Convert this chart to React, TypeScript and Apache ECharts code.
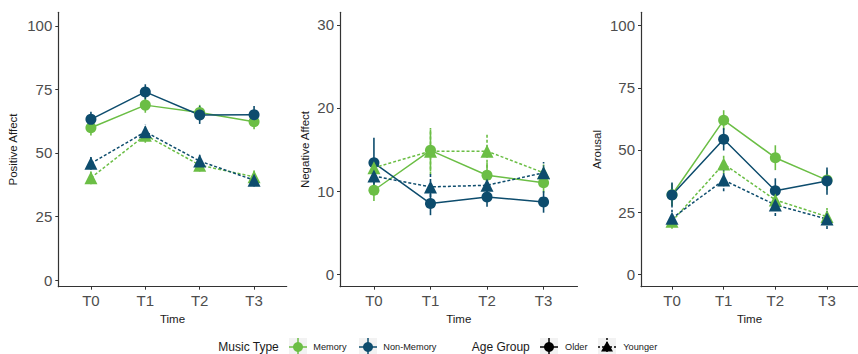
import React, { useEffect, useRef } from "react";
import * as echarts from "echarts";

const times = ["T0", "T1", "T2", "T3"];
const musicTypes = ["Memory", "Non-Memory"];
const ageGroups = ["Older", "Younger"];

// Positive Affect
const paMemOld = [59.9, 68.8, 65.9, 62.3];
const paMemOldSe = [3, 3, 3, 3];
const paNonOld = [63.2, 74.0, 64.9, 65.0];
const paNonOldSe = [3, 3, 3.5, 3.5];
const paMemYoung = [40.2, 57.0, 45.2, 40.6];
const paMemYoungSe = [2.5, 3, 2.5, 2.5];
const paNonYoung = [45.9, 58.3, 46.8, 39.3];
const paNonYoungSe = [2.5, 3, 2.5, 2.5];

// Negative Affect
const naMemOld = [10.1, 14.9, 11.9, 11.0];
const naMemOldSe = [1.3, 2.5, 1.5, 1.2];
const naNonOld = [13.4, 8.5, 9.3, 8.7];
const naNonOldSe = [3.0, 1.4, 1.2, 1.3];
const naMemYoung = [12.8, 14.8, 14.8, 12.2];
const naMemYoungSe = [1.2, 2.8, 2.0, 1.0];
const naNonYoung = [11.8, 10.5, 10.7, 12.2];
const naNonYoungSe = [1.5, 1.8, 1.6, 1.3];

// Arousal
const arMemOld = [32.0, 62.0, 46.9, 37.9];
const arMemOldSe = [4.5, 4, 5, 4];
const arNonOld = [31.9, 54.3, 33.6, 37.5];
const arNonOldSe = [5, 4.5, 5, 5.5];
const arMemYoung = [21.3, 44.4, 29.9, 23.2];
const arMemYoungSe = [3, 4, 3.5, 3.5];
const arNonYoung = [22.5, 37.9, 27.9, 22.2];
const arNonYoungSe = [3.5, 4.5, 4.5, 4];

const panelTitles = ["Positive Affect", "Negative Affect", "Arousal"];
const yTicks = [
  [0, 25, 50, 75, 100],
  [0, 10, 20, 30],
  [0, 25, 50, 75, 100],
];

const GREEN = "#6BBE45";
const NAVY = "#0D4C6D";
const FONT = "Liberation Sans, Arial, sans-serif";

type Grp = { vals: number[]; se: number[]; music: number; age: number };

const panels: Grp[][] = [
  [
    { vals: paMemOld, se: paMemOldSe, music: 0, age: 0 },
    { vals: paNonOld, se: paNonOldSe, music: 1, age: 0 },
    { vals: paMemYoung, se: paMemYoungSe, music: 0, age: 1 },
    { vals: paNonYoung, se: paNonYoungSe, music: 1, age: 1 },
  ],
  [
    { vals: naMemOld, se: naMemOldSe, music: 0, age: 0 },
    { vals: naNonOld, se: naNonOldSe, music: 1, age: 0 },
    { vals: naMemYoung, se: naMemYoungSe, music: 0, age: 1 },
    { vals: naNonYoung, se: naNonYoungSe, music: 1, age: 1 },
  ],
  [
    { vals: arMemOld, se: arMemOldSe, music: 0, age: 0 },
    { vals: arNonOld, se: arNonOldSe, music: 1, age: 0 },
    { vals: arMemYoung, se: arMemYoungSe, music: 0, age: 1 },
    { vals: arNonYoung, se: arNonYoungSe, music: 1, age: 1 },
  ],
];

export default function App() {
  const ref = useRef<HTMLDivElement>(null);
  useEffect(() => {
    if (!ref.current) return;
    const chart = echarts.init(ref.current, null, { renderer: "svg" });

    const grids = [
      { left: 58.3, top: 12.3, width: 228.4, height: 274.4 },
      { left: 340, top: 12.3, width: 237.5, height: 274.4 },
      { left: 641, top: 12.3, width: 229, height: 274.4 },
    ];
    const yRanges = [
      [-2.6, 105.3],
      [-1.5, 31.5],
      [-5, 105.4],
    ];
    const nameGaps = [39, 29, 38.5];

    const xAxes = grids.map((_, i) => ({
      type: "value",
      gridIndex: i,
      min: -0.6,
      max: 3.6,
      name: "Time",
      nameLocation: "middle",
      nameGap: 25,
      nameTextStyle: { fontSize: 11.5, color: "#1a1a1a", fontFamily: FONT },
      axisLine: { show: true, onZero: false, lineStyle: { color: "#333", width: 1.2 } },
      axisTick: {
        show: true,
        length: 3,
        lineStyle: { color: "#333" },
        customValues: [0, 1, 2, 3],
      },
      axisLabel: {
        customValues: [0, 1, 2, 3],
        formatter: (v: number) => times[Math.round(v)] ?? "",
        fontSize: 15,
        color: "#4d4d4d",
        fontFamily: FONT,
        margin: 6,
      },
      splitLine: { show: false },
    }));

    const yAxes = grids.map((_, i) => ({
      type: "value",
      gridIndex: i,
      min: yRanges[i][0],
      max: yRanges[i][1],
      name: panelTitles[i],
      nameLocation: "middle",
      nameGap: nameGaps[i],
      nameTextStyle: { fontSize: 11.5, color: "#1a1a1a", fontFamily: FONT },
      axisLine: { show: true, onZero: false, lineStyle: { color: "#333", width: 1.2 } },
      axisTick: {
        show: true,
        length: 3,
        lineStyle: { color: "#333" },
        customValues: yTicks[i],
      },
      axisLabel: {
        customValues: yTicks[i],
        fontSize: 15,
        color: "#4d4d4d",
        fontFamily: FONT,
        margin: 6,
      },
      splitLine: { show: false },
    }));

    const series: any[] = [];
    panels.forEach((groups, pi) => {
      groups.forEach((g) => {
        const color = g.music === 0 ? GREEN : NAVY;
        const dash = g.age === 0 ? null : [3, 2];
        series.push({
          type: "custom",
          name: musicTypes[g.music] + " " + ageGroups[g.age] + " err",
          xAxisIndex: pi,
          yAxisIndex: pi,
          silent: true,
          z: 1,
          data: g.vals.map((v, i) => [i, v - g.se[i], v + g.se[i]]),
          renderItem: (params: any, api: any) => {
            const p1 = api.coord([api.value(0), api.value(1)]);
            const p2 = api.coord([api.value(0), api.value(2)]);
            return {
              type: "line",
              shape: { x1: p1[0], y1: p1[1], x2: p2[0], y2: p2[1] },
              style: { stroke: color, lineWidth: 1.6, lineDash: dash },
            };
          },
        });
      });
      groups.forEach((g) => {
        const color = g.music === 0 ? GREEN : NAVY;
        series.push({
          type: "line",
          name: musicTypes[g.music] + " " + ageGroups[g.age],
          xAxisIndex: pi,
          yAxisIndex: pi,
          z: 2,
          data: g.vals.map((v, i) => [i, v]),
          symbol: g.age === 0 ? "circle" : "triangle",
          symbolSize: g.age === 0 ? 11 : 13,
          showSymbol: true,
          itemStyle: { color },
          lineStyle: {
            color,
            width: 1.5,
            type: g.age === 0 ? "solid" : [3, 2],
          },
        });
      });
    });

    const ly = 347;
    const keyBox = (cx: number) => ({
      type: "rect",
      shape: { x: cx - 9, y: ly - 9, width: 18, height: 18 },
      style: { fill: "#f2f2f2" },
    });
    const keyLines = (cx: number, color: string, dash: number[] | null) => [
      {
        type: "line",
        shape: { x1: cx - 9, y1: ly, x2: cx + 9, y2: ly },
        style: { stroke: color, lineWidth: 1.5, lineDash: dash },
      },
      {
        type: "line",
        shape: { x1: cx, y1: ly - 9, x2: cx, y2: ly + 9 },
        style: { stroke: color, lineWidth: 1.5, lineDash: dash },
      },
    ];
    const txt = (x: number, text: string, size: number) => ({
      type: "text",
      x,
      y: ly,
      style: {
        text,
        fontSize: size,
        fill: "#1a1a1a",
        fontFamily: FONT,
        verticalAlign: "middle",
        align: "left",
      },
    });

    const graphic: any[] = [
      txt(218.3, "Music Type", 12),
      keyBox(298),
      ...keyLines(298, GREEN, null),
      { type: "circle", shape: { cx: 298, cy: ly, r: 5 }, style: { fill: GREEN } },
      txt(313.3, musicTypes[0], 9.2),
      keyBox(368),
      ...keyLines(368, NAVY, null),
      { type: "circle", shape: { cx: 368, cy: ly, r: 5 }, style: { fill: NAVY } },
      txt(383.3, musicTypes[1], 9.2),
      txt(471.7, "Age Group", 12),
      keyBox(549),
      ...keyLines(549, "#000", null),
      { type: "circle", shape: { cx: 549, cy: ly, r: 5 }, style: { fill: "#000" } },
      txt(565, ageGroups[0], 9.2),
      keyBox(607),
      ...keyLines(607, "#000", [2, 2]),
      {
        type: "polygon",
        shape: { points: [[607, ly - 6], [613, ly + 4.5], [601, ly + 4.5]] },
        style: { fill: "#000" },
      },
      txt(623.3, ageGroups[1], 9.2),
    ];

    chart.setOption({
      animation: false,
      backgroundColor: "#ffffff",
      grid: grids,
      xAxis: xAxes,
      yAxis: yAxes,
      series,
      graphic,
    });
    return () => chart.dispose();
  }, []);
  return (
    <div
      ref={ref}
      style={{ position: "fixed", left: 0, top: 0, width: 858, height: 354 }}
    />
  );
}
